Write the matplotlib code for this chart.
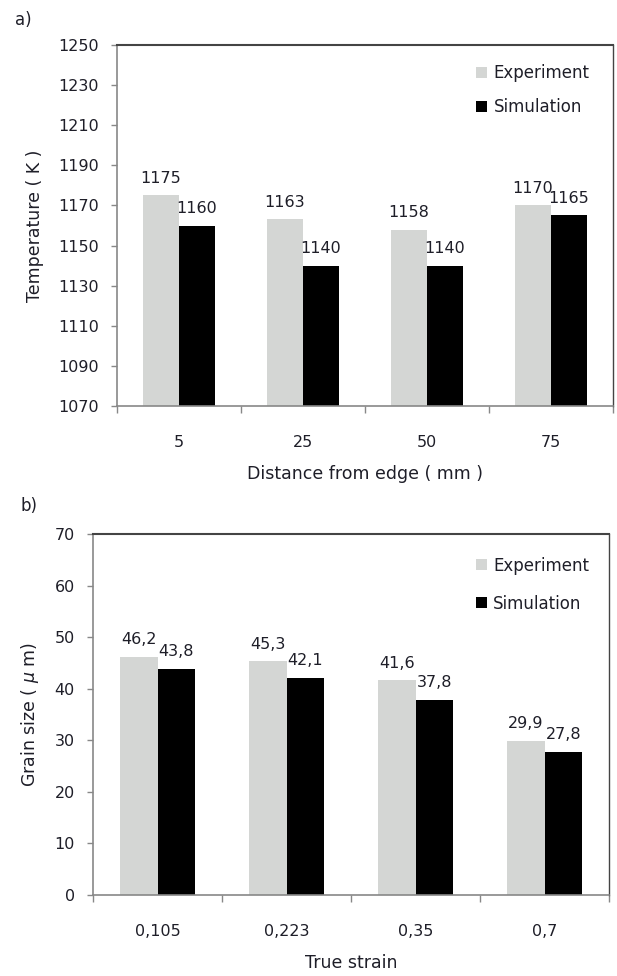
import numpy as np
import matplotlib
matplotlib.use('Agg')
import matplotlib.pyplot as plt

# panel a) temperature
distance_labels = ['5', '25', '50', '75']
temp_experiment = [1175, 1163, 1158, 1170]
temp_simulation = [1160, 1140, 1140, 1165]

# panel b) grain size
strain_labels = ['0,105', '0,223', '0,35', '0,7']
grain_experiment = [46.2, 45.3, 41.6, 29.9]
grain_simulation = [43.8, 42.1, 37.8, 27.8]

EXP_COLOR = '#d4d6d4'
SIM_COLOR = '#000000'
TEXT_COLOR = '#1e1e28'

plt.rcParams['font.family'] = ['DejaVu Sans']


def fmt_comma(v):
    s = ('%g' % v)
    return s.replace('.', ',')


def draw_panel(ax, labels, exp, sim, ylim, yticks, ylabel, xlabel, leg_anchor, leg_spacing):
    x = np.arange(len(labels))
    w = 0.29
    b1 = ax.bar(x - w / 2, exp, w, color=EXP_COLOR, label='Experiment', zorder=2)
    b2 = ax.bar(x + w / 2, sim, w, color=SIM_COLOR, label='Simulation', zorder=2)
    for bars, vals in ((b1, exp), (b2, sim)):
        for rect, v in zip(bars, vals):
            ax.annotate(fmt_comma(v), (rect.get_x() + rect.get_width() / 2, rect.get_height()),
                        xytext=(0, 7), textcoords='offset points', ha='center', va='bottom',
                        fontsize=11.5, color=TEXT_COLOR)
    ax.set_ylim(*ylim)
    ax.set_yticks(yticks)
    ax.set_xlim(-0.5, len(labels) - 0.5)
    ax.set_xticks(x)
    ax.set_xticklabels(labels)
    ax.set_xticks(np.arange(len(labels) + 1) - 0.5, minor=True)
    ax.tick_params(axis='x', which='major', length=0, pad=21, labelsize=11.5, labelcolor=TEXT_COLOR)
    ax.tick_params(axis='x', which='minor', length=5, width=1, color='#888888', direction='out')
    ax.tick_params(axis='y', length=4.5, width=1, color='#888888', pad=8.5,
                   labelsize=11.5, labelcolor=TEXT_COLOR)
    ax.set_ylabel(ylabel, fontsize=12.5, color=TEXT_COLOR, labelpad=10)
    ax.set_xlabel(xlabel, fontsize=12.5, color=TEXT_COLOR, labelpad=11)
    for side in ('left', 'bottom'):
        ax.spines[side].set_color('#888888')
        ax.spines[side].set_linewidth(1.2)
    ax.spines['top'].set_color('#444444')
    ax.spines['top'].set_linewidth(1.5)
    ax.spines['right'].set_color('#444444')
    ax.spines['right'].set_linewidth(1.0)
    ax.legend(loc='upper left', bbox_to_anchor=leg_anchor, frameon=False, fontsize=12,
              handlelength=0.65, handleheight=0.65, handletextpad=0.4,
              labelspacing=leg_spacing, borderpad=0, borderaxespad=0, labelcolor=TEXT_COLOR)


fig = plt.figure(figsize=(6.17, 9.76), dpi=100)
W, H = 617.0, 976.0

ax1 = fig.add_axes([117 / W, 1 - 406 / H, 496 / W, 361 / H])
draw_panel(ax1, distance_labels, temp_experiment, temp_simulation,
           (1070, 1250), np.arange(1070, 1251, 20), 'Temperature ( K )',
           'Distance from edge ( mm )', (0.724, 0.947), 0.95)

ax2 = fig.add_axes([93 / W, 1 - 895 / H, 516 / W, 361 / H])
draw_panel(ax2, strain_labels, grain_experiment, grain_simulation,
           (0, 70), np.arange(0, 71, 10), 'Grain size ( $\\mu$ m)',
           'True strain', (0.742, 0.937), 1.2)

fig.text(15 / W, 1 - 20 / H, 'a)', fontsize=12, color=TEXT_COLOR, va='center', ha='left')
fig.text(21 / W, 1 - 506 / H, 'b)', fontsize=12, color=TEXT_COLOR, va='center', ha='left')

fig.savefig('out.png', dpi=100)
